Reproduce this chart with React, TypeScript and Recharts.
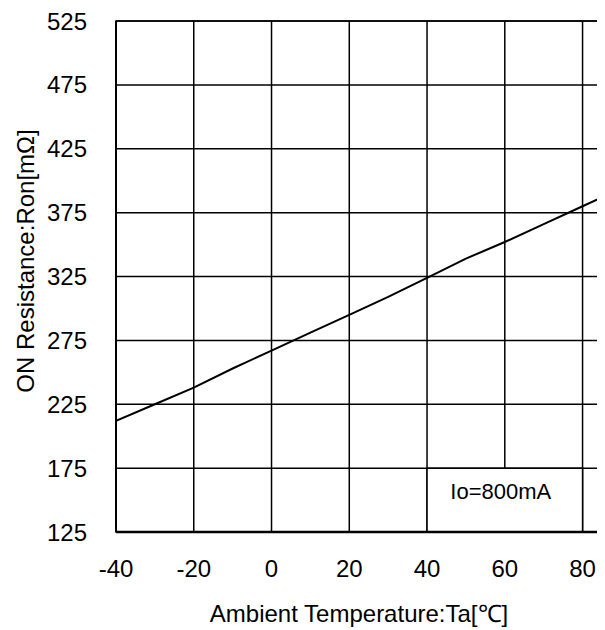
import React from "react";
import {
  LineChart,
  Line,
  XAxis,
  YAxis,
  CartesianGrid,
  ReferenceArea,
  Label,
} from "recharts";

const temps = [-40, -30, -20, -10, 0, 10, 20, 30, 40, 50, 60, 70, 80, 85];
const ron = [212, 225, 238, 253, 267, 281, 295, 309, 324, 339, 352, 366, 380, 387];
const xTicks = [-40, -20, 0, 20, 40, 60, 80];
const yTicks = [125, 175, 225, 275, 325, 375, 425, 475, 525];

const data = temps.map((t, i) => ({ ta: t, ron: ron[i] }));

const FONT = "Arial, 'Liberation Sans', sans-serif";

export default function App() {
  return (
    <div style={{ width: 597, height: 622, background: "#fff" }}>
      <LineChart
        width={597}
        height={622}
        data={data}
        margin={{ top: 13, right: 3, bottom: 0, left: 0 }}
      >
        <CartesianGrid stroke="#000" strokeWidth={1.5} />
        <XAxis
          dataKey="ta"
          type="number"
          domain={[-40, 85]}
          ticks={xTicks}
          allowDataOverflow
          height={98}
          tickSize={0}
          tickMargin={28}
          tickLine={false}
          axisLine={{ stroke: "#000", strokeWidth: 2.5 }}
          tick={{ fontSize: 24, fill: "#000", fontFamily: FONT }}
        >
          <Label
            content={({ viewBox }: any) => (
              <text
                x={viewBox.x + viewBox.width / 2}
                y={viewBox.y + viewBox.height - 8}
                textAnchor="middle"
                fontSize={24}
                fontFamily={FONT}
                fill="#000"
              >
                Ambient Temperature:Ta[℃]
              </text>
            )}
          />
        </XAxis>
        <YAxis
          type="number"
          domain={[125, 525]}
          ticks={yTicks}
          allowDataOverflow
          width={108}
          tickSize={0}
          tickMargin={29}
          tickLine={false}
          axisLine={{ stroke: "#000", strokeWidth: 2 }}
          tick={{ fontSize: 24, fill: "#000", fontFamily: FONT }}
        >
          <Label
            content={() => (
              <text
                x={26}
                y={253}
                transform="rotate(-90, 26, 253)"
                textAnchor="middle"
                fontSize={24}
                fontFamily={FONT}
                fill="#000"
              >
                ON Resistance:Ron[mΩ]
              </text>
            )}
          />
        </YAxis>
        <ReferenceArea
          x1={-40}
          x2={85}
          y1={125}
          y2={525}
          fill="none"
          stroke="#000"
          strokeWidth={1.5}
          ifOverflow="visible"
        />
        <ReferenceArea
          x1={40}
          x2={80}
          y1={125}
          y2={175}
          fill="#fff"
          fillOpacity={1}
          stroke="#000"
          strokeWidth={1.5}
        >
          <Label
            content={({ viewBox }: any) => (
              <text
                x={viewBox.x + viewBox.width / 2 - 4}
                y={viewBox.y + viewBox.height / 2 - 1}
                textAnchor="middle"
                fontSize={22}
                fontFamily={FONT}
                fill="#000"
              >
                Io=800mA
              </text>
            )}
          />
        </ReferenceArea>
        <Line
          dataKey="ron"
          type="linear"
          stroke="#000"
          strokeWidth={2}
          dot={false}
          isAnimationActive={false}
        />
      </LineChart>
    </div>
  );
}
